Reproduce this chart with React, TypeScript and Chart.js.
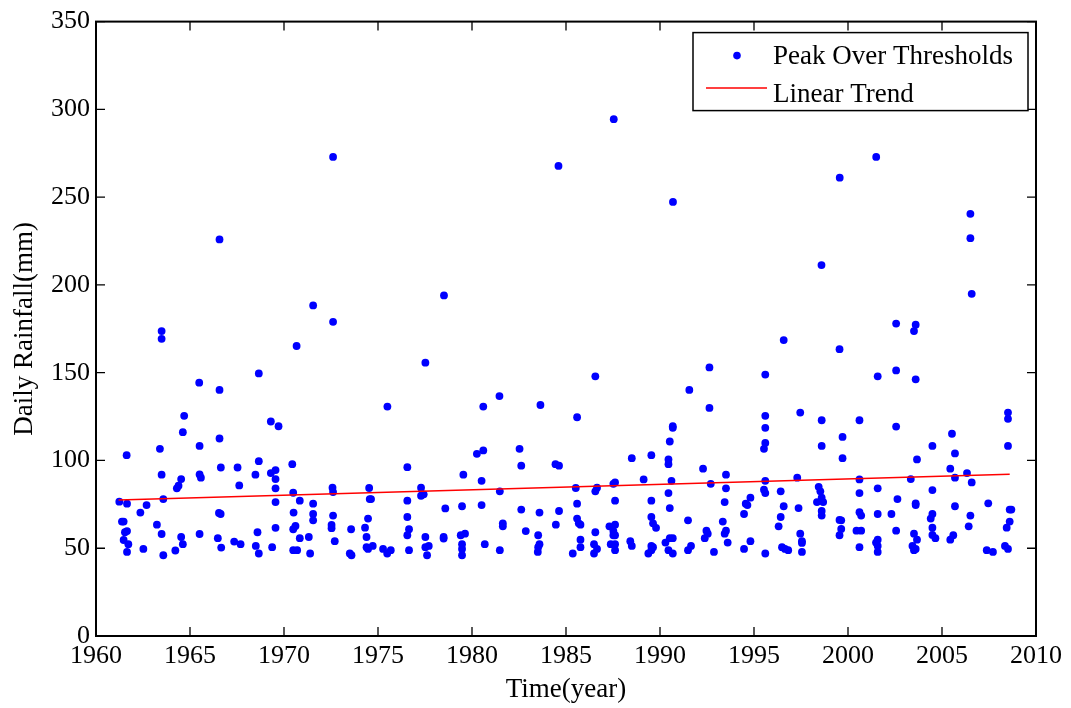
import React, { useEffect, useRef } from "react";
import { Chart, registerables } from "chart.js";

Chart.register(...registerables);

// ---- Data ----
const years1960s = [1963.49,1963.49,1968.66,1965.49,1966.57,1964.69,1964.62,1969.30,1969.71,1961.63,1963.40,1965.51,1966.57,1966.64,1967.53,1968.66,1963.49,1964.53,1965.51,1965.58,1964.39,1964.30,1967.62,1968.48,1969.30,1969.55,1969.55,1969.55,1969.55,1961.24,1961.65,1963.58,1962.69,1962.36,1961.38,1961.47,1966.54,1966.63,1963.24,1961.65,1961.54,1963.49,1969.55,1968.59,1965.51,1964.53,1961.47,1961.72,1964.62,1966.48,1967.35,1967.69,1968.50,1969.37,1966.66,1962.52,1961.65,1964.22,1963.58,1968.66,1966.57];
const rain1960s = [173.7,169.3,149.6,144.3,140.2,125.4,116.1,122.2,119.5,103.0,106.6,108.3,112.5,96.0,96.0,99.6,91.9,89.4,92.0,90.2,85.6,84.1,85.8,91.9,92.8,94.5,89.4,84.1,76.3,76.5,75.4,78.0,74.6,70.3,65.2,65.2,70.1,69.5,63.4,59.8,59.1,58.1,61.6,59.1,58.1,56.4,54.7,52.3,52.3,55.7,53.8,52.3,51.3,50.6,50.4,49.6,47.9,48.7,46.0,47.0,225.9];

const years1970s = [1971.55,1972.61,1970.67,1977.52,1975.50,1970.44,1976.56,1979.54,1970.49,1972.58,1972.61,1974.53,1977.29,1977.29,1977.43,1970.84,1971.55,1974.56,1974.63,1976.56,1978.58,1979.47,1970.51,1971.55,1971.55,1972.61,1972.53,1972.53,1974.47,1976.56,1973.57,1974.31,1976.65,1970.49,1970.61,1970.84,1971.32,1972.70,1974.39,1976.56,1977.52,1978.49,1978.49,1979.40,1979.63,1979.47,1979.47,1979.47,1970.49,1970.70,1971.39,1973.50,1973.59,1974.39,1974.47,1974.72,1975.27,1975.49,1975.68,1976.65,1977.52,1977.70,1977.61,1972.61,1978.51];
const rain1970s = [188.3,179.0,165.2,155.7,130.7,97.9,96.2,91.9,81.6,84.5,82.0,84.3,84.5,79.9,80.7,77.1,75.4,78.0,78.0,77.1,72.7,73.9,70.3,69.5,65.9,68.6,63.3,61.4,66.9,67.8,60.8,61.7,60.8,60.8,62.7,55.7,56.4,54.0,56.4,57.4,56.4,56.4,55.5,57.4,58.3,52.3,49.6,46.0,48.9,48.9,47.0,47.0,46.0,50.6,49.6,51.3,49.6,47.0,48.9,48.9,50.6,51.3,46.0,272.9,194.0];

const years1980s = [1986.56,1981.46,1980.60,1983.64,1985.59,1980.26,1980.60,1982.53,1982.62,1984.44,1984.63,1988.50,1989.54,1980.51,1989.13,1987.61,1981.48,1985.52,1986.56,1986.65,1987.52,1980.51,1985.59,1987.61,1989.54,1982.62,1983.59,1984.63,1981.64,1981.64,1982.86,1984.46,1985.59,1985.68,1985.77,1987.31,1987.61,1987.52,1987.52,1987.61,1989.54,1989.63,1989.79,1983.52,1986.56,1980.68,1981.48,1983.59,1983.52,1983.50,1985.77,1985.77,1985.36,1986.49,1986.65,1986.49,1987.38,1987.61,1987.61,1988.42,1988.50,1989.54,1989.54,1989.38,1989.63,1984.60,1987.54];
const rain1980s = [147.9,136.7,130.7,131.6,124.6,103.8,105.7,106.6,97.0,97.9,97.0,101.3,103.0,88.4,89.2,87.5,82.4,84.3,82.4,84.5,86.7,74.6,75.4,77.1,77.1,72.0,70.3,71.2,64.2,62.5,59.8,63.4,66.9,64.2,63.4,62.5,63.4,59.8,57.4,57.4,67.8,64.2,61.6,57.4,59.1,52.3,48.9,52.3,50.6,47.9,54.9,50.6,47.0,52.3,49.6,47.0,52.3,52.3,48.9,54.0,51.3,51.3,48.9,47.0,50.6,267.8,294.4];

const years1990s = [1996.58,1999.55,1992.63,1995.60,1991.56,1992.63,1997.46,1995.60,1995.60,1990.68,1990.68,1998.60,1990.52,1995.60,1995.53,1998.60,1999.71,1999.71,1990.45,1990.45,1992.29,1993.51,1990.61,1992.70,1993.51,1995.60,1995.53,1995.60,1996.42,1997.30,1998.44,1998.53,1998.60,1998.35,1998.68,1998.60,1998.60,1990.45,1990.52,1993.44,1994.81,1994.56,1994.65,1994.47,1996.58,1996.42,1997.37,1991.49,1993.34,1992.47,1992.54,1992.38,1993.51,1993.44,1993.60,1994.81,1996.31,1997.46,1997.55,1997.55,1997.55,1999.55,1999.64,1999.64,1999.55,1990.29,1990.45,1990.52,1990.68,1990.68,1991.49,1991.65,1992.87,1994.47,1995.60,1996.49,1996.65,1996.82,1990.69,1999.56,1998.59];
const rain1990s = [168.6,163.4,153.0,148.9,140.2,129.9,127.3,125.4,118.6,119.5,118.6,122.9,110.8,110.0,106.6,108.3,113.4,101.3,100.6,97.9,95.3,91.9,88.4,86.7,84.1,88.4,83.3,81.4,82.4,90.2,85.0,82.4,78.8,76.3,76.3,71.2,68.6,81.4,72.9,76.3,78.8,75.4,74.6,69.5,73.9,67.8,72.9,65.9,65.2,60.0,58.3,55.7,60.0,58.3,53.2,54.0,62.5,58.3,54.0,53.0,47.9,66.1,65.9,61.0,57.4,53.2,48.9,55.7,55.7,47.0,48.9,51.3,47.9,49.6,47.0,50.6,49.6,48.9,247.3,261.1,211.3];

const years2000s = [2002.56,2003.60,2003.51,2001.58,2002.56,2003.60,2000.61,2002.56,2008.51,2008.51,2005.53,2004.49,2008.51,2005.69,2003.67,2005.44,2000.61,2003.34,2005.69,2006.33,2006.58,2000.61,2001.58,2004.49,2002.63,2003.60,2003.60,2005.69,2007.46,2000.61,2000.70,2001.58,2002.31,2004.49,2004.40,2006.51,2008.60,2008.69,2008.60,2008.44,2000.45,2000.70,2002.56,2003.51,2004.49,2004.49,2004.65,2005.60,2005.44,2006.42,2003.67,2001.58,2001.49,2001.58,2001.58,2000.61,2003.43,2003.60,2003.51,2007.38,2007.71,2008.35,2008.51,2001.50,2006.51,2006.51,2006.58];
const rain2000s = [178.0,177.3,173.7,147.9,151.3,146.2,122.9,119.3,127.3,123.7,115.2,108.3,108.3,104.0,100.6,95.3,89.2,89.4,90.2,92.8,87.5,81.4,84.1,83.1,78.0,75.6,74.6,73.9,75.6,70.5,68.6,69.5,69.5,69.5,66.9,68.6,72.0,72.0,65.2,61.7,60.0,60.0,60.0,58.3,61.7,57.6,55.7,57.4,54.9,62.5,54.9,54.9,53.2,51.3,47.9,50.6,51.3,49.6,48.9,48.9,47.9,51.3,49.6,272.9,240.5,226.6,194.9];

const trendYears = [1961.2, 2008.6];
const trendValues = [77.5, 92.1];

const xTickValues = [1960, 1965, 1970, 1975, 1980, 1985, 1990, 1995, 2000, 2005, 2010];
const yTickValues = [0, 50, 100, 150, 200, 250, 300, 350];

const seriesLabels = ["Peak Over Thresholds", "Linear Trend"];
const xTitle = "Time(year)";
const yTitle = "Daily Rainfall(mm)";

const FONT = "'Liberation Serif', 'Times New Roman', serif";

const peakYears = [...years1960s, ...years1970s, ...years1980s, ...years1990s, ...years2000s];
const peakValues = [...rain1960s, ...rain1970s, ...rain1980s, ...rain1990s, ...rain2000s];

const framePlugin = {
  id: "matlabFrame",
  afterDatasetsDraw(chart: any) {
    const { ctx, chartArea: a, scales } = chart;
    const xs = scales.x;
    const ys = scales.y;
    const tl = 9;
    ctx.save();
    ctx.strokeStyle = "#000";
    ctx.lineWidth = 1.3;
    ctx.beginPath();
    for (const t of xs.ticks) {
      const px = xs.getPixelForValue(t.value);
      ctx.moveTo(px, a.bottom);
      ctx.lineTo(px, a.bottom - tl);
      ctx.moveTo(px, a.top);
      ctx.lineTo(px, a.top + tl);
    }
    for (const t of ys.ticks) {
      const py = ys.getPixelForValue(t.value);
      ctx.moveTo(a.left, py);
      ctx.lineTo(a.left + tl, py);
      ctx.moveTo(a.right, py);
      ctx.lineTo(a.right - tl, py);
    }
    ctx.stroke();
    ctx.lineWidth = 2;
    ctx.strokeRect(a.left, a.top, a.right - a.left, a.bottom - a.top);

    // Legend box (MATLAB style, top-right inside the axes)
    const ds = chart.data.datasets;
    const bw = 335;
    const bh = 78;
    const bx = a.right - 8 - bw;
    const by = a.top + 11;
    ctx.fillStyle = "#fff";
    ctx.fillRect(bx, by, bw, bh);
    ctx.lineWidth = 1.5;
    ctx.strokeStyle = "#000";
    ctx.strokeRect(bx, by, bw, bh);

    // entry 1: marker
    ctx.fillStyle = ds[0].backgroundColor;
    ctx.beginPath();
    ctx.arc(bx + 44, by + 23, 3.8, 0, Math.PI * 2);
    ctx.fill();
    // entry 2: line
    ctx.strokeStyle = ds[1].borderColor;
    ctx.lineWidth = 1.5;
    ctx.beginPath();
    ctx.moveTo(bx + 13, by + 55.5);
    ctx.lineTo(bx + 74, by + 55.5);
    ctx.stroke();

    ctx.fillStyle = "#000";
    ctx.font = `27px ${FONT}`;
    ctx.textAlign = "left";
    ctx.textBaseline = "alphabetic";
    ctx.fillText(ds[0].label, bx + 80, by + 31.5);
    ctx.fillText(ds[1].label, bx + 80, by + 69);
    ctx.restore();
  },
};

export default function App() {
  const ref = useRef<HTMLCanvasElement | null>(null);

  useEffect(() => {
    if (!ref.current) return;
    const chart = new Chart(ref.current, {
      type: "scatter",
      data: {
        datasets: [
          {
            type: "scatter",
            label: seriesLabels[0],
            data: peakYears.map((x, i) => ({ x, y: peakValues[i] })),
            backgroundColor: "#0000ff",
            borderColor: "#0000ff",
            pointRadius: 3.9,
            pointBorderWidth: 0,
            pointHoverRadius: 3.9,
            order: 2,
          } as any,
          {
            type: "line",
            label: seriesLabels[1],
            data: trendYears.map((x, i) => ({ x, y: trendValues[i] })),
            borderColor: "#ff0000",
            backgroundColor: "#ff0000",
            borderWidth: 1.5,
            pointRadius: 0,
            fill: false,
            tension: 0,
            order: 1,
          } as any,
        ],
      },
      options: {
        animation: false,
        responsive: false,
        devicePixelRatio: 1,
        events: [],
        layout: { padding: { left: 0, top: 17, right: 35, bottom: 0 } },
        plugins: {
          legend: { display: false },
          tooltip: { enabled: false },
        },
        scales: {
          x: {
            type: "linear",
            min: 1960,
            max: 2010,
            grid: { display: false, drawTicks: false },
            border: { display: false },
            afterBuildTicks: (s: any) => {
              s.ticks = xTickValues.map((v) => ({ value: v }));
            },
            afterFit: (s: any) => {
              s.height = 72;
            },
            ticks: {
              autoSkip: false,
              maxRotation: 0,
              padding: 5,
              color: "#000",
              font: { family: FONT, size: 26 },
              callback: (v: any) => String(v),
            },
            title: {
              display: true,
              text: xTitle,
              color: "#000",
              font: { family: FONT, size: 27 },
              padding: { top: 0, bottom: 2 },
            },
          },
          y: {
            type: "linear",
            min: 0,
            max: 350,
            grid: { display: false, drawTicks: false },
            border: { display: false },
            afterBuildTicks: (s: any) => {
              s.ticks = yTickValues.map((v) => ({ value: v }));
            },
            afterFit: (s: any) => {
              s.width = 96;
            },
            ticks: {
              autoSkip: false,
              padding: 6,
              color: "#000",
              font: { family: FONT, size: 26 },
              callback: (v: any) => String(v),
            },
            title: {
              display: true,
              text: yTitle,
              color: "#000",
              font: { family: FONT, size: 27 },
              padding: { top: 9, bottom: 0 },
            },
          },
        },
      },
      plugins: [framePlugin],
    } as any);
    return () => chart.destroy();
  }, []);

  return (
    <div style={{ position: "fixed", left: 0, top: 0, width: 1071, height: 708, background: "#fff" }}>
      <canvas ref={ref} width={1071} height={708} style={{ width: 1071, height: 708, display: "block" }} />
    </div>
  );
}
